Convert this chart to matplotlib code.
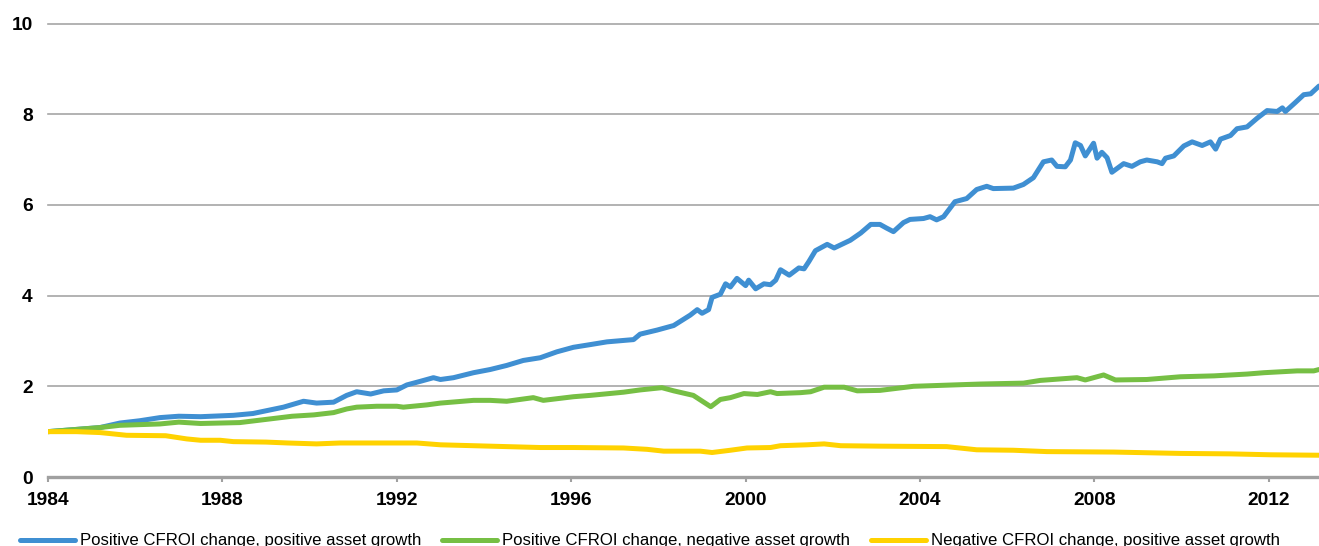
import matplotlib
matplotlib.use('Agg')
import matplotlib.pyplot as plt

plt.rcParams['font.family'] = ['Liberation Sans', 'DejaVu Sans']

# Values (year, index level)
blue_years = [1984.0, 1985.19, 1985.65, 1986.1, 1986.57, 1987.0, 1987.5, 1988.25, 1988.7, 1989.0,
              1989.4, 1989.86, 1990.16, 1990.55, 1990.85, 1991.08, 1991.4, 1991.7, 1992.0, 1992.23,
              1992.54, 1992.84, 1993.0, 1993.3, 1993.76, 1994.14, 1994.52, 1994.9, 1995.29, 1995.67,
              1996.05, 1996.44, 1996.82, 1997.43, 1997.58, 1997.97, 1998.35, 1998.73, 1998.89, 1999.0,
              1999.15, 1999.23, 1999.42, 1999.54, 1999.65, 1999.8, 2000.0, 2000.07, 2000.23, 2000.42,
              2000.57, 2000.69, 2000.8, 2001.0, 2001.22, 2001.34, 2001.45, 2001.6, 2001.87, 2002.03,
              2002.4, 2002.64, 2002.87, 2003.08, 2003.23, 2003.39, 2003.62, 2003.77, 2004.08, 2004.23,
              2004.38, 2004.54, 2004.8, 2005.07, 2005.3, 2005.53, 2005.68, 2006.14, 2006.37, 2006.6,
              2006.83, 2007.02, 2007.14, 2007.33, 2007.45, 2007.56, 2007.68, 2007.79, 2007.98, 2008.06,
              2008.17, 2008.29, 2008.4, 2008.67, 2008.86, 2009.05, 2009.2, 2009.44, 2009.55, 2009.63,
              2009.82, 2010.05, 2010.24, 2010.47, 2010.66, 2010.78, 2010.89, 2011.12, 2011.27, 2011.5,
              2011.73, 2011.96, 2012.19, 2012.31, 2012.38, 2012.61, 2012.8, 2012.96, 2013.15]
blue_vals = [1.0, 1.09, 1.19, 1.24, 1.31, 1.34, 1.33, 1.36, 1.40, 1.46,
             1.54, 1.67, 1.63, 1.65, 1.80, 1.88, 1.83, 1.90, 1.92, 2.03,
             2.11, 2.19, 2.15, 2.19, 2.30, 2.37, 2.46, 2.57, 2.63, 2.76,
             2.86, 2.92, 2.98, 3.03, 3.15, 3.24, 3.34, 3.57, 3.69, 3.61,
             3.69, 3.96, 4.03, 4.26, 4.19, 4.38, 4.22, 4.34, 4.15, 4.26,
             4.24, 4.34, 4.57, 4.45, 4.61, 4.59, 4.75, 4.99, 5.13, 5.05,
             5.22, 5.38, 5.57, 5.57, 5.49, 5.41, 5.61, 5.68, 5.70, 5.74,
             5.67, 5.74, 6.07, 6.14, 6.34, 6.41, 6.36, 6.37, 6.45, 6.60,
             6.95, 6.99, 6.85, 6.84, 6.99, 7.37, 7.31, 7.08, 7.36, 7.03,
             7.16, 7.04, 6.72, 6.91, 6.85, 6.95, 6.99, 6.95, 6.91, 7.03,
             7.08, 7.30, 7.39, 7.31, 7.39, 7.23, 7.45, 7.53, 7.68, 7.72,
             7.91, 8.08, 8.06, 8.14, 8.06, 8.26, 8.43, 8.45, 8.62]

green_years = [1984.0, 1985.19, 1985.65, 1986.57, 1987.0, 1987.5, 1988.4, 1989.0, 1989.6, 1990.1,
               1990.55, 1990.85, 1991.08, 1991.54, 1992.0, 1992.15, 1992.69, 1993.0, 1993.76, 1994.14,
               1994.52, 1995.13, 1995.36, 1996.05, 1996.44, 1997.2, 1997.58, 1998.08, 1998.35, 1998.8,
               1999.04, 1999.2, 1999.42, 1999.65, 1999.96, 2000.27, 2000.57, 2000.72, 2001.26, 2001.49,
               2001.8, 2002.26, 2002.56, 2003.08, 2003.85, 2005.38, 2006.37, 2006.76, 2007.6, 2007.79,
               2008.21, 2008.48, 2009.2, 2009.97, 2010.74, 2011.5, 2011.89, 2012.65, 2013.03, 2013.15]
green_vals = [1.0, 1.09, 1.14, 1.17, 1.21, 1.18, 1.20, 1.27, 1.34, 1.37,
              1.42, 1.50, 1.54, 1.56, 1.56, 1.54, 1.59, 1.63, 1.69, 1.69,
              1.67, 1.75, 1.69, 1.77, 1.80, 1.87, 1.92, 1.97, 1.90, 1.80,
              1.65, 1.55, 1.71, 1.75, 1.84, 1.82, 1.88, 1.84, 1.86, 1.88,
              1.98, 1.98, 1.90, 1.91, 2.00, 2.05, 2.07, 2.13, 2.19, 2.14,
              2.25, 2.14, 2.15, 2.21, 2.23, 2.27, 2.30, 2.34, 2.34, 2.37]

yellow_years = [1984.0, 1984.65, 1985.19, 1985.4, 1985.8, 1986.7, 1987.18, 1987.5, 1987.95, 1988.25,
                1989.0, 1989.5, 1990.16, 1990.7, 1992.46, 1993.0, 1993.76, 1994.52, 1995.29, 1996.05,
                1997.2, 1997.74, 1998.12, 1998.96, 1999.23, 1999.65, 2000.03, 2000.57, 2000.8, 2001.41,
                2001.8, 2002.18, 2003.08, 2004.61, 2005.3, 2006.14, 2006.91, 2008.44, 2009.97, 2011.12,
                2012.04, 2013.15]
yellow_vals = [1.0, 1.0, 0.98, 0.96, 0.92, 0.91, 0.84, 0.81, 0.81, 0.78,
               0.77, 0.75, 0.73, 0.75, 0.75, 0.71, 0.69, 0.67, 0.65, 0.65,
               0.64, 0.61, 0.57, 0.57, 0.54, 0.59, 0.64, 0.65, 0.69, 0.71,
               0.73, 0.69, 0.68, 0.67, 0.60, 0.59, 0.56, 0.55, 0.52, 0.51,
               0.49, 0.48]

labels = ['Positive CFROI change, positive asset growth',
          'Positive CFROI change, negative asset growth',
          'Negative CFROI change, positive asset growth']
colors = ['#3f8fd2', '#76bf44', '#ffd200']

fig = plt.figure(figsize=(13.19, 5.46), dpi=100)
ax = fig.add_axes([48 / 1319, 1 - 477 / 546, 1 - 48 / 1319, (477 - 23.5) / 546])

ax.plot(blue_years, blue_vals, color=colors[0], lw=3.6, label=labels[0], solid_capstyle='round')
ax.plot(green_years, green_vals, color=colors[1], lw=3.6, label=labels[1], solid_capstyle='round')
ax.plot(yellow_years, yellow_vals, color=colors[2], lw=3.6, label=labels[2], solid_capstyle='round')

ax.set_xlim(1984, 2013.15)
ax.set_ylim(0, 10)
ax.set_yticks([0, 2, 4, 6, 8, 10])
ax.set_xticks([1984, 1988, 1992, 1996, 2000, 2004, 2008, 2012])

ax.yaxis.grid(True, color='#a6a6a6', lw=1.2)
for gl in ax.get_ygridlines():
    gl.set_clip_on(False)
ax.set_axisbelow(True)

for s in ['top', 'right', 'left']:
    ax.spines[s].set_visible(False)
ax.spines['bottom'].set_color('#a0a0a0')
ax.spines['bottom'].set_linewidth(2.4)

ax.tick_params(axis='y', length=0, pad=11)
ax.tick_params(axis='x', length=3.5, width=1.5, color='#a0a0a0', pad=7)
for t in ax.get_xticklabels() + ax.get_yticklabels():
    t.set_fontweight('bold')
    t.set_fontsize(13.8)

fig.legend(loc='center', bbox_to_anchor=(650 / 1319, 1 - 541 / 546), ncol=3, frameon=False,
           fontsize=12.1, handlelength=3.3, handletextpad=0.3, columnspacing=1.2,
           borderaxespad=0, borderpad=0)

plt.savefig('out.png', dpi=100)
